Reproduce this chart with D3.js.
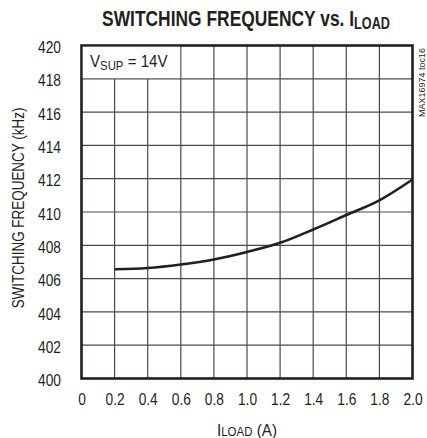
<!DOCTYPE html>
<html><head><meta charset="utf-8">
<script src="https://cdn.jsdelivr.net/npm/d3@7"></script>
<style>
body{margin:0;background:#fff;}
text{font-family:"Liberation Sans",Arial,sans-serif;fill:#231f20;}
</style></head>
<body>
<svg id="chart" width="427" height="438"></svg>
<script>
const loadCurrent = [0.2, 0.4, 0.6, 0.8, 1.0, 1.2, 1.4, 1.6, 1.8, 2.0];
const switchingFreq = [406.56, 406.64, 406.85, 407.15, 407.6, 408.15, 408.95, 409.82, 410.7, 411.95];
const xTicks = [0, 0.2, 0.4, 0.6, 0.8, 1.0, 1.2, 1.4, 1.6, 1.8, 2.0];
const yTicks = [400, 402, 404, 406, 408, 410, 412, 414, 416, 418, 420];

const svg = d3.select("#chart");
const L = 81.5, R = 412.5, T = 45.5, B = 378.5;
const x = d3.scaleLinear().domain([0, 2]).range([L, R]);
const y = d3.scaleLinear().domain([400, 420]).range([B, T]);
const ink = "#231f20";

// scale a text horizontally about anchor ax so that its width is w
function condense(sel, w, ax) {
  const bw = sel.node().getBBox().width;
  const s = w / bw;
  sel.attr("transform", `translate(${ax},0) scale(${s},1) translate(${-ax},0)`);
}

// grid
const g = svg.append("g");
g.selectAll("line.v").data(xTicks.slice(1, -1)).join("line")
  .attr("x1", d => x(d)).attr("x2", d => x(d))
  .attr("y1", d => d < 0.6 ? y(418) : T).attr("y2", B)
  .attr("stroke", "#4a4a4a").attr("stroke-width", 1.2);
g.selectAll("line.h").data(yTicks.slice(1, -1)).join("line")
  .attr("x1", L).attr("x2", R)
  .attr("y1", d => y(d)).attr("y2", d => y(d))
  .attr("stroke", "#4a4a4a").attr("stroke-width", 1.2);

// curve
const line = d3.line().x((d, i) => x(loadCurrent[i])).y(d => y(d)).curve(d3.curveMonotoneX);
svg.append("path").datum(switchingFreq).attr("d", line)
  .attr("fill", "none").attr("stroke", ink).attr("stroke-width", 2.6);

// frame
svg.append("rect").attr("x", L).attr("y", T).attr("width", R - L).attr("height", B - T)
  .attr("fill", "none").attr("stroke", ink).attr("stroke-width", 2.6);

// axes labels
const fs = 16, sx = 0.86;
const xAxis = d3.axisBottom(x).tickValues(xTicks).tickSize(0)
  .tickFormat(d => d === 0 ? "0" : d3.format(".1f")(d));
svg.append("g").attr("transform", `translate(0,${B + 12})`).call(xAxis)
  .call(a => a.select(".domain").remove())
  .selectAll("text").attr("font-size", fs).attr("font-family", null).attr("fill", ink)
  .attr("transform", `scale(${sx},1)`);

const yAxis = d3.axisLeft(y).tickValues(yTicks).tickSize(0).tickFormat(d3.format("d"));
svg.append("g").attr("transform", `translate(${L - 18},2)`).call(yAxis)
  .call(a => a.select(".domain").remove())
  .selectAll("text").attr("font-size", fs).attr("font-family", null).attr("fill", ink)
  .attr("transform", `scale(${sx},1)`);

// title
const title = svg.append("text").attr("x", 246).attr("y", 26).attr("text-anchor", "middle")
  .attr("font-size", 22).attr("font-weight", "bold");
title.append("tspan").text("SWITCHING FREQUENCY vs. I");
title.append("tspan").attr("font-size", 16).attr("dy", 3).text("LOAD");
condense(title, 288, 246);

// x label
const xl = svg.append("text").attr("x", 247).attr("y", 436).attr("text-anchor", "middle").attr("font-size", fs);
xl.append("tspan").text("I");
xl.append("tspan").attr("font-size", 12).text("LOAD");
xl.append("tspan").text(" (A)");
condense(xl, 60, 247);

// y label
const ylG = svg.append("g").attr("transform", `translate(24,208) rotate(-90)`);
const yl = ylG.append("text").attr("x", 0).attr("y", 0).attr("text-anchor", "middle")
  .attr("font-size", fs).text("SWITCHING FREQUENCY (kHz)");
condense(yl, 201, 0);

// legend box
svg.append("rect").attr("x", L + 1.3).attr("y", T + 1.3).attr("width", x(0.6) - L - 2).attr("height", y(418) - T - 2).attr("fill", "#fff");
const lg = svg.append("text").attr("x", 90).attr("y", 67).attr("font-size", fs);
lg.append("tspan").text("V");
lg.append("tspan").attr("font-size", 12).attr("dy", 3).text("SUP");
lg.append("tspan").attr("dy", -3).text(" = 14V");
condense(lg, 78, 90);

// side code
const sc = svg.append("g").attr("transform", `translate(425,48) rotate(-90)`);
const sct = sc.append("text").attr("text-anchor", "end").attr("font-size", 9).text("MAX16974 toc16");
condense(sct, 69, 0);
</script>
</body></html>
